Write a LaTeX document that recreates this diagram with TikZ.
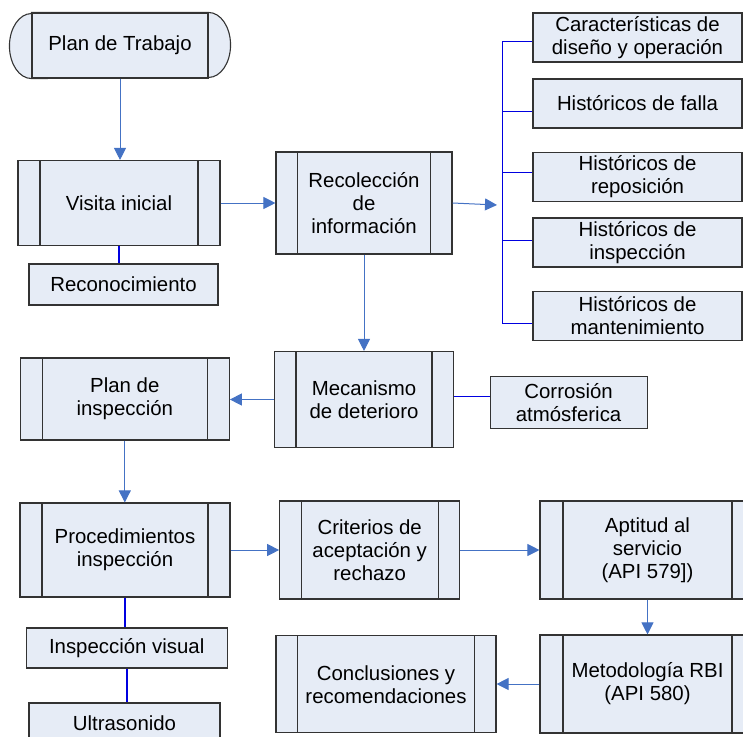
\documentclass[tikz,border=0pt]{standalone}
\usepackage{fontspec}
\setmainfont{Liberation Sans}
\usetikzlibrary{positioning,calc,arrows.meta,backgrounds}
\definecolor{boxfill}{HTML}{E6ECF6}
\definecolor{flowblue}{HTML}{4472C4}
\definecolor{linkblue}{HTML}{0000E0}

\begin{document}
\begin{tikzpicture}[x=1pt, y=-1pt,
    databox/.style={draw=black!80, line width=1.1pt, fill=boxfill, inner sep=0pt, align=center,
        font=\fontsize{20.4}{23}\selectfont},
    procbox/.style={databox, path picture={
        \draw[black!80, line width=1.1pt] ([xshift=#1]path picture bounding box.north west) -- ([xshift=#1]path picture bounding box.south west);
        \draw[black!80, line width=1.1pt] ([xshift=-#1]path picture bounding box.north east) -- ([xshift=-#1]path picture bounding box.south east);}},
    procbox/.default=22pt,
    flow/.style={flowblue, line width=1pt, -{Triangle[length=12pt,width=12pt]}},
    assoc/.style={linkblue, line width=1.8pt},
    busline/.style={linkblue, line width=1pt}]
    \useasboundingbox (0,0) rectangle (743,736);
    \clip (0,0) rectangle (743,736);

    % Inicio
    \node[databox, minimum width=176pt, minimum height=65pt] (plan) at (120,45.5) {Plan de Trabajo};
    \begin{scope}[on background layer]
        \draw[black!80, line width=1.1pt, fill=boxfill] (plan.north west) -- (plan.north east)
            arc[start angle=90, end angle=-90, x radius=22pt, y radius=32.5pt] -- (plan.south west)
            arc[start angle=270, end angle=90, x radius=22pt, y radius=32.5pt] -- cycle;
    \end{scope}

    % Primera fila
    \node[procbox, minimum width=202pt, minimum height=85pt] (visita) at (119,203) {Visita inicial};
    \node[databox, minimum width=189pt, minimum height=41pt] (recon) at (123.5,284.5) {Reconocimiento};
    \node[procbox=21.5pt, minimum width=176pt, minimum height=102pt] (recol) at (364,203) {Recolección\\de\\información};

    % Informacion recolectada
    \node[databox, minimum width=209pt, minimum height=49pt] (c1) at (637.5,37.5) {Características de\\diseño y operación};
    \node[databox, minimum width=209pt, minimum height=49pt] (c2) at (637.5,103.5) {Históricos de falla};
    \node[databox, minimum width=209pt, minimum height=49pt] (c3) at (637.5,177) {Históricos de\\reposición};
    \node[databox, minimum width=209pt, minimum height=49pt] (c4) at (637.5,242.5) {Históricos de\\inspección};
    \node[databox, minimum width=209pt, minimum height=49pt] (c5) at (637.5,316) {Históricos de\\mantenimiento};
    \coordinate (bus) at (502,0);
    \coordinate (busin) at (497,205);

    % Segunda fila
    \node[procbox=21.5pt, minimum width=179pt, minimum height=96pt] (meca) at (364,399.5) {Mecanismo\\de deterioro};
    \node[procbox, minimum width=209pt, minimum height=82pt] (pinsp) at (124.8,399) {Plan de\\inspección};
    \node[databox, minimum width=157pt, minimum height=52pt] (corro) at (568.6,402.5) {Corrosión\\atmósferica};

    % Tercera fila
    \node[procbox, minimum width=210pt, minimum height=94pt] (proc) at (125,550) {Procedimientos\\inspección};
    \node[procbox=21.5pt, minimum width=180pt, minimum height=98pt] (crit) at (369.7,550) {Criterios de\\aceptación y\\rechazo};
    \node[procbox=23pt, minimum width=215pt, minimum height=98pt] (apt) at (647.5,550) {Aptitud al\\servicio\\(API 579])};
    \node[databox, minimum width=201pt, minimum height=40pt] (vis) at (126.7,648) {Inspección visual};
    \node[databox, minimum width=191pt, minimum height=41pt] (ultra) at (124.5,723.5) {Ultrasonido};
    \node[procbox=23pt, minimum width=215pt, minimum height=98pt] (meto) at (647.5,684) {Metodología RBI\\(API 580)};
    \node[procbox=21.5pt, minimum width=220pt, minimum height=97pt] (concl) at (386,684.4) {Conclusiones y\\recomendaciones};

    % Flechas
    \draw[flow] (plan.south) -- (plan.south |- visita.north);
    \draw[flow] (visita.east) -- (visita.east -| recol.west);
    \draw[flow] (recol.east) -- (busin);
    \draw[flow] (recol.south) -- (recol.south |- meca.north);
    \draw[flow] (meca.west) -- (meca.west -| pinsp.east);
    \draw[flow] (pinsp.south) -- (pinsp.south |- proc.north);
    \draw[flow] (proc.east) -- (proc.east -| crit.west);
    \draw[flow] (crit.east) -- (crit.east -| apt.west);
    \draw[flow] (apt.south) -- (apt.south |- meto.north);
    \draw[flow] (meto.west) -- (meto.west -| concl.east);

    % Asociaciones
    \draw[assoc] (visita.south) -- (visita.south |- recon.north);
    \draw[assoc] ([yshift=3pt]meca.east) -- ([yshift=3pt]meca.east -| corro.west);
    \draw[assoc] (proc.south) -- (proc.south |- vis.north);
    \draw[assoc] (vis.south) -- (vis.south |- ultra.north);
    \draw[busline] ([yshift=-4pt]c1.west) -- ([yshift=-4pt]c1.west -| bus) -- ([yshift=-7pt]c5.west -| bus) -- ([yshift=-7pt]c5.west);
    \foreach \n/\d in {c2/-7.5, c3/5, c4/2.5}
        \draw[busline] ([yshift=\d pt]\n.west) -- ([yshift=\d pt]\n.west -| bus);
\end{tikzpicture}
\end{document}
